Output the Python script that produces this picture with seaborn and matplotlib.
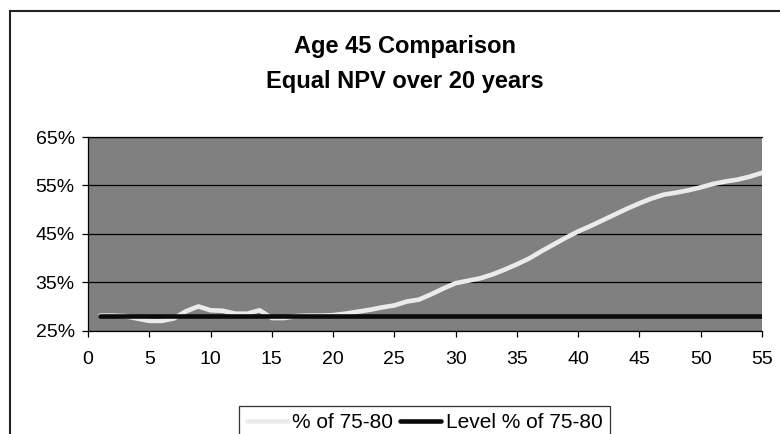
import numpy as np
import pandas as pd
import matplotlib
matplotlib.use("Agg")
import matplotlib.pyplot as plt
import matplotlib.patches as mpatches
from matplotlib.ticker import PercentFormatter
import seaborn as sns

# data
years = list(range(1, 56))
pct_75_80 = [28.1, 28.1, 28.0, 27.5, 27.0, 27.0, 27.5, 29.0, 30.0, 29.2,
             29.1, 28.5, 28.5, 29.2, 27.6, 27.6, 28.0, 28.1, 28.1, 28.2,
             28.5, 28.9, 29.3, 29.8, 30.2, 31.0, 31.4, 32.5, 33.7, 34.8,
             35.3, 35.8, 36.6, 37.6, 38.7, 39.9, 41.4, 42.8, 44.2, 45.5,
             46.6, 47.8, 49.0, 50.2, 51.3, 52.3, 53.1, 53.5, 54.0, 54.6,
             55.3, 55.8, 56.2, 56.8, 57.6]
level_value = 28.1
series_names = ["% of 75-80", "Level % of 75-80"]
y_ticks = [0.25, 0.35, 0.45, 0.55, 0.65]
x_ticks = list(range(0, 56, 5))

df = pd.DataFrame({
    "year": years * 2,
    "value": [v / 100 for v in pct_75_80] + [level_value / 100] * len(years),
    "series": [series_names[0]] * len(years) + [series_names[1]] * len(years),
})

sns.set_theme(style="white")
plt.rcParams["font.family"] = ["Liberation Sans", "DejaVu Sans"]
plt.rcParams["text.color"] = "black"

W, H = 780, 434
fig = plt.figure(figsize=(W / 100, H / 100), dpi=100)
ax = fig.add_axes([88 / W, 1 - 330.6 / H, (762 - 88) / W, (330.6 - 137) / H])
ax.set_facecolor("#808080")

sns.lineplot(data=df, x="year", y="value", hue="series",
             palette=["#ebebeb", "#0a0a0a"], linewidth=3.3, ax=ax,
             legend=False)
for line in ax.get_lines():
    line.set_solid_capstyle("round")

ax.set_xlim(0, 55)
ax.set_ylim(0.25, 0.65)
ax.set_xticks(x_ticks)
ax.set_yticks(y_ticks)
ax.yaxis.set_major_formatter(PercentFormatter(1.0, decimals=0))
ax.grid(axis="y", color="black", linewidth=0.9)
ax.set_axisbelow(True)
ax.set_xlabel("")
ax.set_ylabel("")
ax.tick_params(axis="both", labelsize=14, colors="black", length=4.5, width=0.9,
               direction="out", bottom=True, left=True)
ax.tick_params(axis="x", pad=10)
ax.tick_params(axis="y", pad=5)
for side in ["left", "bottom", "top"]:
    ax.spines[side].set_color("black")
    ax.spines[side].set_linewidth(0.9)
ax.spines["right"].set_visible(False)

# titles
fig.text(405 / W, 1 - 53 / H, "Age 45 Comparison", ha="center", va="baseline",
         fontsize=17, fontweight="bold", color="black")
fig.text(405 / W, 1 - 88 / H, "Equal NPV over 20 years", ha="center",
         va="baseline", fontsize=17, fontweight="bold", color="black")

# legend partially cut by the bottom edge
handles = [plt.Line2D([], [], color="#ebebeb", linewidth=3.3),
           plt.Line2D([], [], color="#0a0a0a", linewidth=3.3)]
leg = fig.legend(handles, series_names, loc="upper center",
                 bbox_to_anchor=(424.5 / W, 1 - 405.7 / H), ncol=2,
                 fontsize=15, frameon=True, fancybox=False, handlelength=2.0,
                 handletextpad=0.2, columnspacing=0.3, borderpad=0.35,
                 borderaxespad=0)
leg.get_frame().set_edgecolor("black")
leg.get_frame().set_linewidth(0.9)
for t in leg.get_texts():
    t.set_color("black")

# outer chart frame
frame = mpatches.Rectangle((10 / W, -0.1), 1.2, 1 - 11 / H + 0.1,
                           transform=fig.transFigure, fill=False,
                           edgecolor="#222222", linewidth=1.5)
fig.add_artist(frame)

fig.savefig("out.png", dpi=100)
